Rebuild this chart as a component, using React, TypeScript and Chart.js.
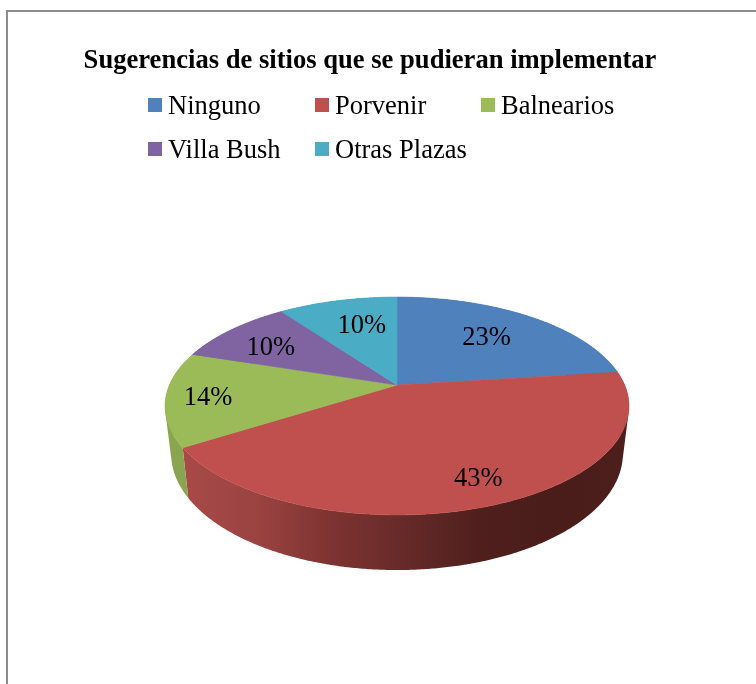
import React, { useEffect, useRef } from "react";
import { Chart, registerables } from "chart.js";

Chart.register(...registerables);

const chartTitle = "Sugerencias de sitios que se pudieran implementar";
const categories = ["Ninguno", "Porvenir", "Balnearios", "Villa Bush", "Otras Plazas"];
const shares = [23, 43, 14, 10, 10];
const topColors = ["#4f81bd", "#c0504d", "#9bbb59", "#8064a2", "#4bacc6"];
const wallStops = [
  ["#3c5f8c", "#3c5f8c"],
  ["#a84a47", "#9a4341", "#7d3331", "#662a28", "#4e1f1d", "#4a1c1a", "#4c1e1c"],
  ["#8aa54f", "#8aa54f"],
  ["#5e4a78", "#5e4a78"],
  ["#37809a", "#37809a"],
];

const FONT = '"Liberation Serif", "Times New Roman", serif';
const TOP = { cx: 397, cy: 385, a: 227.6, b: 104.9, k: 0.1927 };
const BOTTOM = { cx: 397, cy: 431, a: 227.6 * 0.974, b: 104.9 * 1.07, k: 0.1927 };
const LABEL_RADIUS = [0.65, 0.82, 0.82, 0.706, 0.65];
const LABEL_TURN = [0, -2, -1.2, -3.5, 2.5];

type Plane = typeof TOP;
type Pt = [number, number];

function project(p: Plane, turn: number, r = 1): Pt {
  const X = r * Math.sin(turn);
  const Y = -r * Math.cos(turn);
  const w = 1 - p.k * Y;
  return [p.cx + (p.a * X) / w, p.cy + (p.b * Y) / w];
}

function arcPoints(p: Plane, from: number, to: number): Pt[] {
  const n = Math.max(2, Math.ceil(Math.abs(to - from) / 0.008));
  const pts: Pt[] = [];
  for (let i = 0; i <= n; i++) pts.push(project(p, from + ((to - from) * i) / n));
  return pts;
}

function signedArea(q: Pt[]) {
  let a = 0;
  q.forEach((pt, i) => {
    const nx = q[(i + 1) % q.length];
    a += pt[0] * nx[1] - nx[0] * pt[1];
  });
  return a;
}

const pie3d = {
  id: "pie3d",
  beforeDatasetsDraw(chart: any) {
    const ctx = chart.ctx as CanvasRenderingContext2D;
    const arcs = chart.getDatasetMeta(0).data as any[];
    const spans = arcs.map((el) => {
      const { startAngle, endAngle } = el.getProps(["startAngle", "endAngle"], true);
      return [startAngle + Math.PI / 2, endAngle + Math.PI / 2];
    });

    // Side walls: one path per slice, every strip wound the same way, so there are no seams or holes.
    spans.forEach(([s, e], i) => {
      const upper = arcPoints(TOP, s, e);
      const lower = arcPoints(BOTTOM, s, e);
      const grad = ctx.createLinearGradient(183, 0, 629, 0);
      const stops = wallStops[i];
      stops.forEach((c, j) => grad.addColorStop(j / (stops.length - 1), c));
      ctx.beginPath();
      for (let j = 0; j + 1 < upper.length; j++) {
        const quad: Pt[] = [upper[j], upper[j + 1], lower[j + 1], lower[j]];
        if (signedArea(quad) < 0) quad.reverse();
        quad.forEach(([x, y], m) => (m ? ctx.lineTo(x, y) : ctx.moveTo(x, y)));
        ctx.closePath();
      }
      ctx.fillStyle = grad;
      ctx.fill("nonzero");
    });

    // Top face.
    spans.forEach(([s, e], i) => {
      const pts = arcPoints(TOP, s, e);
      ctx.beginPath();
      ctx.moveTo(TOP.cx, TOP.cy);
      pts.forEach(([x, y]) => ctx.lineTo(x, y));
      ctx.closePath();
      ctx.fillStyle = topColors[i];
      ctx.strokeStyle = topColors[i];
      ctx.lineWidth = 0.6;
      ctx.fill();
      ctx.stroke();
    });

    ctx.fillStyle = "#000";
    ctx.font = `26.5px ${FONT}`;
    ctx.textAlign = "center";
    ctx.textBaseline = "middle";
    spans.forEach(([s, e], i) => {
      const mid = (s + e) / 2 + (LABEL_TURN[i] * Math.PI) / 180;
      const [x, y] = project(TOP, mid, LABEL_RADIUS[i]);
      ctx.fillText(`${shares[i]}%`, x, y);
    });
    return false;
  },
  afterDraw(chart: any) {
    const ctx = chart.ctx as CanvasRenderingContext2D;
    const columns = [148, 315, 481];
    const rows = [98, 142];
    ctx.textAlign = "left";
    ctx.textBaseline = "alphabetic";
    ctx.font = `26.5px ${FONT}`;
    chart.data.labels.forEach((label: string, i: number) => {
      const x = columns[i % 3];
      const y = rows[Math.floor(i / 3)];
      ctx.fillStyle = topColors[i];
      ctx.fillRect(x, y, 14, 14);
      ctx.fillStyle = "#000";
      ctx.fillText(label, x + 20, y + 16);
    });
  },
};

export default function App() {
  const ref = useRef<HTMLCanvasElement>(null);
  useEffect(() => {
    document.body.style.margin = "0";
    const chart = new Chart(ref.current!, {
      type: "pie",
      data: {
        labels: categories,
        datasets: [{ data: shares, backgroundColor: topColors, borderWidth: 0 }],
      },
      options: {
        responsive: false,
        animation: false,
        layout: { padding: { right: 16 } },
        plugins: {
          legend: { display: false },
          tooltip: { enabled: false },
          title: {
            display: true,
            text: chartTitle,
            color: "#000",
            font: { family: FONT, size: 26.6, weight: "bold" },
            padding: { top: 45, bottom: 10 },
          },
        },
      },
      plugins: [pie3d],
    } as any);
    return () => chart.destroy();
  }, []);
  return (
    <div style={{ position: "absolute", left: 0, top: 0, width: 756, height: 684, overflow: "hidden", background: "#fff" }}>
      <canvas ref={ref} width={756} height={684} style={{ display: "block", position: "absolute", left: 0, top: 0 }} />
      <div style={{ position: "absolute", left: 6, top: 10, width: 760, height: 690, borderLeft: "2px solid #8c8c8c", borderTop: "2px solid #8c8c8c" }} />
    </div>
  );
}
